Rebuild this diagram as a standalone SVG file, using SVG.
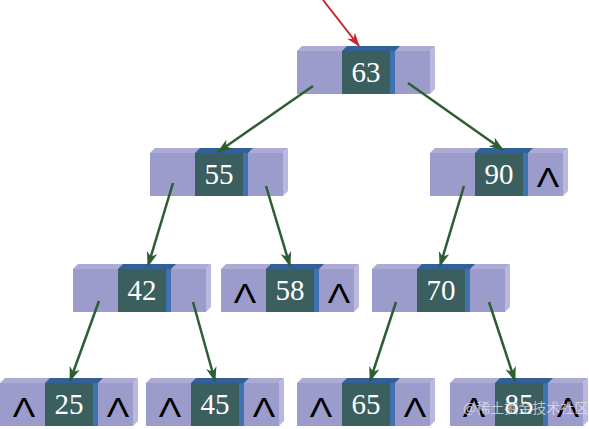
<svg xmlns="http://www.w3.org/2000/svg" xmlns:xlink="http://www.w3.org/1999/xlink" width="589" height="429" viewBox="0 0 589 429">
<style>
.front{fill:#9b9bcc}
.top{fill:#ababd4}
.side{fill:#b9b9e0}
.mid{fill:#3b5e5e}
.midtop{fill:#34609a}
.strip{fill:#3e72b0}
.num{font-family:"Liberation Serif",serif;font-size:29px;fill:#ffffff;text-anchor:middle}
.nil{font-family:"Liberation Sans",sans-serif;font-size:28px;fill:#000000;text-anchor:middle}
.edge{stroke:#2d5e32;stroke-width:2.5;fill:none;marker-end:url(#ah)}
.red{stroke:#c8282c;stroke-width:2;fill:none;marker-end:url(#ahr)}
.wm{font-family:"Noto Sans CJK SC",sans-serif;font-size:14px;fill:#e8e8e8;fill-opacity:0.75}
</style>
<defs>
<marker id="ah" viewBox="0 0 14 10" refX="13" refY="5" markerWidth="15" markerHeight="11" markerUnits="userSpaceOnUse" orient="auto">
<path d="M0,0 L14,5 L0,10 L4,5 z" fill="#2d5e32"/>
</marker>
<marker id="ahr" viewBox="0 0 14 10" refX="13" refY="5" markerWidth="14" markerHeight="10" markerUnits="userSpaceOnUse" orient="auto">
<path d="M0,0 L14,5 L0,10 L4,5 z" fill="#c8282c"/>
</marker>
<g id="box">
<polygon class="top" points="0,0 5,-5 138,-5 133,0"/>
<polygon class="midtop" points="45,0 50,-5 103,-5 98,0"/>
<rect class="front" x="0" y="0" width="133" height="43"/>
<rect class="mid" x="45" y="0" width="48" height="43"/>
<rect class="strip" x="93" y="0" width="5" height="43"/>
<polygon class="side" points="133,0 138,-5 138,38 133,43"/>
</g>
</defs>

<g id="node63" transform="translate(297,51)"><use xlink:href="#box"/><text class="num" x="69" y="31">63</text></g>
<g id="node55" transform="translate(150,153)"><use xlink:href="#box"/><text class="num" x="69" y="31">55</text></g>
<g id="node90" transform="translate(430,153)"><use xlink:href="#box"/><text class="num" x="69" y="31">90</text><text class="nil" transform="translate(118,34) scale(1.2,1)">Λ</text></g>
<g id="node42" transform="translate(73,269)"><use xlink:href="#box"/><text class="num" x="69" y="31">42</text></g>
<g id="node58" transform="translate(221,269)"><use xlink:href="#box"/><text class="nil" transform="translate(24,34) scale(1.2,1)">Λ</text><text class="num" x="69" y="31">58</text><text class="nil" transform="translate(118,34) scale(1.2,1)">Λ</text></g>
<g id="node70" transform="translate(372,269)"><use xlink:href="#box"/><text class="num" x="69" y="31">70</text></g>
<g id="node25" transform="translate(0,383)"><use xlink:href="#box"/><text class="nil" transform="translate(24,34) scale(1.2,1)">Λ</text><text class="num" x="69" y="31">25</text><text class="nil" transform="translate(118,34) scale(1.2,1)">Λ</text></g>
<g id="node45" transform="translate(146,383)"><use xlink:href="#box"/><text class="nil" transform="translate(24,34) scale(1.2,1)">Λ</text><text class="num" x="69" y="31">45</text><text class="nil" transform="translate(118,34) scale(1.2,1)">Λ</text></g>
<g id="node65" transform="translate(297,383)"><use xlink:href="#box"/><text class="nil" transform="translate(24,34) scale(1.2,1)">Λ</text><text class="num" x="69" y="31">65</text><text class="nil" transform="translate(118,34) scale(1.2,1)">Λ</text></g>
<g id="node85" transform="translate(450,383)"><use xlink:href="#box"/><text class="nil" transform="translate(24,34) scale(1.2,1)">Λ</text><text class="num" x="69" y="31">85</text><text class="nil" transform="translate(118,34) scale(1.2,1)">Λ</text></g>

<g id="connectors">
<line class="red" x1="323" y1="0" x2="359" y2="46"/>
<line class="edge" x1="313" y1="86" x2="218" y2="152"/>
<line class="edge" x1="408" y1="83" x2="503" y2="150"/>
<line class="edge" x1="173" y1="183" x2="148" y2="266"/>
<line class="edge" x1="266" y1="186" x2="290" y2="266"/>
<line class="edge" x1="464" y1="186" x2="440" y2="266"/>
<line class="edge" x1="99" y1="301" x2="70" y2="381"/>
<line class="edge" x1="193" y1="302" x2="215" y2="381"/>
<line class="edge" x1="396" y1="302" x2="370" y2="381"/>
<line class="edge" x1="489" y1="302" x2="515" y2="381"/>
</g>

<text class="wm" x="463" y="413">@稀土掘金技术社区</text>
</svg>
